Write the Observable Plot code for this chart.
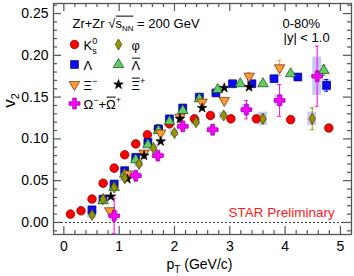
<!DOCTYPE html>
<html><head><meta charset="utf-8">
<script src="https://cdn.jsdelivr.net/npm/d3@7"></script>
<script src="https://cdn.jsdelivr.net/npm/@observablehq/plot@0.6"></script>
<style>
body{margin:0;background:#fff;}
#chart svg{font-family:"Liberation Sans",Arial,sans-serif;overflow:visible;}
</style></head><body><div id="chart"></div>
<script>
// ---- data ----
const ksPt  = [0.12,0.31,0.51,0.71,0.91,1.10,1.30,1.51,1.71,1.91,2.36,2.65,3.02,3.48,4.10,4.79];
const ksV2  = [0.010,0.014,0.028,0.047,0.065,0.081,0.094,0.105,0.112,0.118,0.124,0.128,0.124,0.124,0.123,0.113];

const phiPt  = [0.51,0.71,0.91,1.10,1.36,1.62,2.00,2.39,2.89,3.60,4.49];
const phiV2  = [0.009,0.028,0.042,0.053,0.070,0.089,0.107,0.120,0.128,0.124,0.124];
const phiErr = [0.001,0.001,0.001,0.001,0.002,0.002,0.002,0.003,0.003,0.005,0.013];
const phiSys = [0.004,0.004,0.004,0.004,0.004,0.004,0.004,0.004,0.004,0.008,0.008];

const lamPt  = [0.51,0.71,0.91,1.10,1.30,1.52,1.71,1.91,2.15,2.45,2.75,3.05,3.40,3.80,4.23,4.75];
const lamV2  = [0.015,0.028,0.046,0.062,0.078,0.096,0.112,0.124,0.137,0.150,0.155,0.166,0.166,0.172,0.174,0.164];
const lamErr = [0.001,0.001,0.001,0.001,0.001,0.001,0.001,0.001,0.001,0.001,0.001,0.001,0.002,0.002,0.003,0.007];
const lamSys = [0.005,0.003,0.003,0.003,0.003,0.003,0.003,0.003,0.003,0.003,0.003,0.003,0.003,0.003,0.003,0.007];

const albPt  = [0.71,0.91,1.10,1.30,1.52,1.71,1.91,2.15,2.45,2.78,3.19,3.60,4.10,4.70];
const albV2  = [0.026,0.042,0.058,0.075,0.093,0.110,0.121,0.134,0.148,0.159,0.166,0.166,0.178,0.182];
const albErr = [0.001,0.001,0.001,0.001,0.001,0.001,0.001,0.001,0.001,0.001,0.002,0.002,0.003,0.006];

const xiPt  = [0.83,1.15,1.45,1.75,2.10,2.50,2.90,3.35,3.90];
const xiV2  = [0.014,0.058,0.083,0.107,0.126,0.144,0.146,0.175,0.185];
const xiErr = [0.003,0.002,0.002,0.002,0.002,0.003,0.003,0.004,0.009];

const axiPt = [0.85,1.15,1.45,1.75,2.10,2.50,2.90,3.35];
const axiV2 = [0.031,0.052,0.080,0.097,0.124,0.137,0.161,0.162];

const omPt  = [0.91,1.30,1.70,2.15,2.69,3.30,3.90,4.58];
const omV2  = [0.008,0.056,0.080,0.115,0.111,0.135,0.146,0.175];
const omErr = [0.021,0.004,0.004,0.004,0.004,0.011,0.019,0.036];
const omSys = [0.006,0.004,0.004,0.004,0.004,0.006,0.007,0.023];

const xMajor = [0,1,2,3,4,5];
const yMajor = [0,0.05,0.10,0.15,0.20,0.25];

// ---- layout ----
const W = 354, Hh = 276;
const mL = 53, mT = 3, mR = 3, mB = 42;
const FW = W - mL - mR, FH = Hh - mT - mB;
const xDomain = [-0.187, 5.2], yDomain = [-0.0144, 0.262];

const xMinor = d3.range(-10, 27).map(i => +(i*0.2).toFixed(2)).filter(v => v > xDomain[0] && v < xDomain[1] && !xMajor.includes(v));
const yMinor = d3.range(-1, 27).map(i => +(i*0.01).toFixed(2)).filter(v => v > yDomain[0] && v < yDomain[1] && !yMajor.some(m => Math.abs(m-v) < 1e-9));

const rows = (pt, v2, err, sys) => pt.map((p,i) => ({pt:p, v2:v2[i], err: err ? err[i] : 0, sys: sys ? sys[i] : 0}));

const species = [
  {key:"ks",  data: rows(ksPt, ksV2), symbol:"circle", r:4.3, fill:"#ff0000", stroke:"#6b0000", err:"#ff0000"},
  {key:"lam", data: rows(lamPt, lamV2, lamErr, lamSys), symbol:"square", r:4.4, fill:"#0a0aff", stroke:"#000055", err:"#0000ff"},
  {key:"alb", data: rows(albPt, albV2, albErr), symbol:"triangle", r:3.9, fill:"#5fcf5f", stroke:"#1b3d1b", err:"#33aa33"},
  {key:"xi",  data: rows(xiPt, xiV2, xiErr), symbol:"triangle", r:3.9, rotate:180, fill:"#ff9a36", stroke:"#5a3000", err:"#ff9933"},
  {key:"axi", data: rows(axiPt, axiV2), symbol:"star", r:3.0, fill:"#000000", stroke:"#000000", err:"#000000"},
  {key:"phi", data: rows(phiPt, phiV2, phiErr, phiSys), symbol:"diamond", r:3.4, fill:"#959500", stroke:"#3d3d00", err:"#999900"},
  {key:"om",  data: rows(omPt, omV2, omErr, omSys), symbol:"cross", r:4.6, fill:"#ff00ff", stroke:"#8a008a", err:"#ff00ff"}
];
const byKey = Object.fromEntries(species.map(s => [s.key, s]));

// legend entries
const legendKeys   = ["ks","phi","lam","alb","xi","axi","om"];
const legendLabels = ["@Ks0","φ","Λ","@Lbar","@Xim","@Xibar","@Om"];
const legendCol    = [0,1,0,1,0,1,0];
const legendRow    = [0,0,1,1,2,2,3];
const colMarkX = [74, 118], colTextX = [83, 131];
const rowY = [44, 64, 84, 103];

const tickColor = "#555";
const marks = [];

// sys boxes
for (const s of species) {
  const d = s.data.filter(r => r.sys > 0);
  if (d.length) marks.push(Plot.rect(d, {x1: r => r.pt - 0.08, x2: r => r.pt + 0.08, y1: r => r.v2 - r.sys, y2: r => r.v2 + r.sys, fill: "#b4b4ee", fillOpacity: 0.75}));
}
// zero line
marks.push(Plot.ruleY([0], {stroke: "#333", strokeWidth: 1, strokeDasharray: "2,2"}));
// error bars
for (const s of species) {
  const d = s.data.filter(r => r.err >= 0.004);
  if (!d.length) continue;
  marks.push(Plot.ruleX(d, {x: "pt", y1: r => r.v2 - r.err, y2: r => r.v2 + r.err, stroke: s.err, strokeWidth: 1}));
  marks.push(Plot.ruleY(d, {y: r => r.v2 + r.err, x1: r => r.pt - 0.035, x2: r => r.pt + 0.035, stroke: s.err, strokeWidth: 1}));
  marks.push(Plot.ruleY(d, {y: r => r.v2 - r.err, x1: r => r.pt - 0.035, x2: r => r.pt + 0.035, stroke: s.err, strokeWidth: 1}));
}
// markers
const draw = ["ks","lam","alb","xi","axi","phi","om"];
for (const k of draw) {
  const s = byKey[k];
  marks.push(Plot.dot(s.data, {x: "pt", y: "v2", symbol: s.symbol, r: s.r, fill: s.fill, stroke: s.stroke, strokeWidth: 0.7, rotate: s.rotate || 0}));
}
// frame + ticks (inward, all four sides)
marks.push(Plot.frame({stroke: tickColor, strokeWidth: 1.3}));
const tk = {stroke: tickColor, strokeWidth: 1.2};
marks.push(Plot.tickX(xMajor, {x: d => d, insetTop: FH - 8, ...tk}));
marks.push(Plot.tickX(xMajor, {x: d => d, insetBottom: FH - 8, ...tk}));
marks.push(Plot.tickX(xMinor, {x: d => d, insetTop: FH - 4, ...tk}));
marks.push(Plot.tickX(xMinor, {x: d => d, insetBottom: FH - 4, ...tk}));
marks.push(Plot.tickY(yMajor, {y: d => d, insetRight: FW - 8, ...tk}));
marks.push(Plot.tickY(yMajor, {y: d => d, insetLeft: FW - 8, ...tk}));
marks.push(Plot.tickY(yMinor, {y: d => d, insetRight: FW - 4, ...tk}));
marks.push(Plot.tickY(yMinor, {y: d => d, insetLeft: FW - 4, ...tk}));
// axes (labels only)
marks.push(Plot.axisX(xMajor, {tickSize: 0, tickPadding: 7, fontSize: 14, fill: "#000", tickFormat: d => String(d), label: null}));
marks.push(Plot.axisY(yMajor, {tickSize: 0, tickPadding: 5, fontSize: 14, fill: "#000", tickFormat: d3.format(".2f"), label: null}));

// texts
const txt = (s, x, y, o = {}) => Plot.text([s], {frameAnchor: "top-left", dx: x - mL, dy: y - mT, textAnchor: "start", lineAnchor: "bottom", fontSize: 13, fill: "#000", ...o});
marks.push(txt("@title", 72, 27));
marks.push(txt("0-80%", 282, 27));
marks.push(txt("|y| < 1.0", 283, 41));
marks.push(txt("STAR Preliminary", 228, 216, {fill: "#ff1a1a", fontSize: 13.5}));
marks.push(txt("@pt", 199, 268, {textAnchor: "middle", fontSize: 14}));
marks.push(txt("@v2", 14, 100, {textAnchor: "middle", fontSize: 17, rotate: -90}));

// legend
legendKeys.forEach((k, i) => {
  const s = byKey[k];
  const c = legendCol[i], rw = legendRow[i];
  marks.push(Plot.dot([0], {frameAnchor: "top-left", dx: colMarkX[c] - mL, dy: rowY[rw] - mT, symbol: s.symbol, r: s.r, fill: s.fill, stroke: s.stroke, strokeWidth: 0.7, rotate: s.rotate || 0}));
  marks.push(txt(legendLabels[i], colTextX[c], rowY[rw] + 5));
});

const chart = Plot.plot({
  width: W, height: Hh,
  marginLeft: mL, marginTop: mT, marginRight: mR, marginBottom: mB,
  x: {domain: xDomain},
  y: {domain: yDomain},
  style: {fontFamily: "'Liberation Sans', Arial, sans-serif", background: "#fff"},
  marks
});
document.getElementById("chart").appendChild(chart);

// ---- rich text (sub/superscripts, overbars) ----
const NS = "http://www.w3.org/2000/svg";
const sup = -5.5, sub = 4;
const richMap = {
  "@Ks0":  [{t:"K"},{t:"0",fs:9,shift:sup},{t:"s",fs:9,shift:sub,dx:-5}],
  "@Lbar": [{t:"Λ",bar:"a"}],
  "@Xim":  [{t:"Ξ"},{t:"−",fs:9,shift:sup}],
  "@Xibar":[{t:"Ξ",bar:"a"},{t:"+",fs:9,shift:sup}],
  "@Om":   [{t:"Ω"},{t:"−",fs:9,shift:sup},{t:"+"},{t:"Ω",bar:"a"},{t:"+",fs:9,shift:sup}],
  "@title":[{t:"Zr+Zr "},{t:"√"},{t:"s",bar:"a"},{t:"NN",fs:8,shift:3,bar:"a"},{t:" = 200 GeV"}],
  "@pt":   [{t:"p"},{t:"T",fs:10,shift:4},{t:" (GeV/c)"}],
  "@v2":   [{t:"v"},{t:"2",fs:11,shift:4}]
};
chart.querySelectorAll("text").forEach(el => {
  const key = el.textContent;
  const segs = richMap[key];
  if (!segs) return;
  const fs = parseFloat(getComputedStyle(el).fontSize) || 13;
  el.textContent = "";
  let cur = 0;
  const groups = {};
  for (const s of segs) {
    const ts = document.createElementNS(NS, "tspan");
    ts.textContent = s.t;
    const sh = s.shift || 0;
    if (sh !== cur) ts.setAttribute("dy", sh - cur);
    cur = sh;
    if (s.dx) ts.setAttribute("dx", s.dx);
    if (s.fs) ts.setAttribute("font-size", s.fs);
    el.appendChild(ts);
    if (s.bar) (groups[s.bar] = groups[s.bar] || []).push(ts);
  }
  const base = el.getStartPositionOfChar(0).y;
  for (const g of Object.values(groups)) {
    let x0 = Infinity, x1 = -Infinity;
    for (const ts of g) { const b = ts.getBBox(); x0 = Math.min(x0, b.x); x1 = Math.max(x1, b.x + b.width); }
    const yb = base - 0.72 * fs - 2;
    const ln = document.createElementNS(NS, "line");
    ln.setAttribute("x1", x0 + 0.5); ln.setAttribute("x2", x1 - 0.3);
    ln.setAttribute("y1", yb); ln.setAttribute("y2", yb);
    ln.setAttribute("stroke", "#000"); ln.setAttribute("stroke-width", 1);
    const tr = el.getAttribute("transform");
    if (tr) ln.setAttribute("transform", tr);
    el.parentNode.appendChild(ln);
  }
});
</script>
</body></html>
